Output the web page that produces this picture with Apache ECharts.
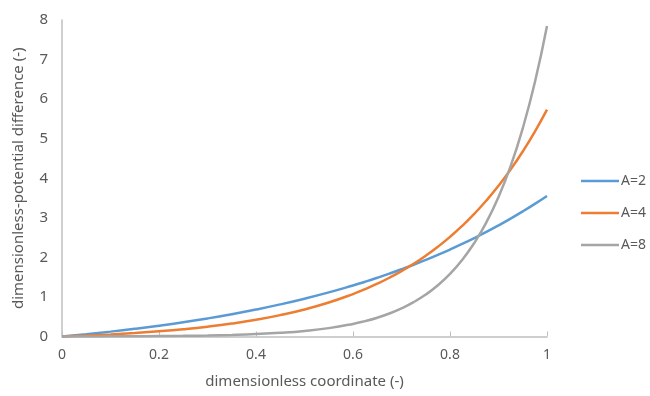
<!DOCTYPE html>
<html>
<head>
<meta charset="utf-8">
<script src="https://cdn.jsdelivr.net/npm/echarts@6/dist/echarts.min.js"></script>
<style>html,body{margin:0;padding:0;background:#fff;}#c{width:650px;height:396px;}</style>
</head>
<body>
<div id="c"></div>
<script>
var xs = [0,0.05,0.1,0.15,0.2,0.25,0.3,0.35,0.4,0.45,0.5,0.55,0.6,0.625,0.65,0.675,0.7,0.725,0.75,0.775,0.8,0.825,0.85,0.875,0.9,0.925,0.95,0.975,1];
var seriesNames = ['A=2','A=4','A=8'];
var a2 = [0,0.0585,0.1231,0.1945,0.2735,0.3607,0.4571,0.5636,0.6814,0.8115,0.9554,1.1143,1.2900,1.3846,1.4841,1.5887,1.6987,1.8143,1.9358,2.0636,2.1979,2.3391,2.4875,2.6436,2.8076,2.9801,3.1614,3.3520,3.5523];
var a4 = [0,0.0237,0.0526,0.0880,0.1311,0.1839,0.2483,0.3269,0.4230,0.5403,0.6836,0.8587,1.0725,1.1965,1.3336,1.4851,1.6526,1.8376,2.0422,2.2682,2.5180,2.7941,3.0992,3.4364,3.8090,4.2209,4.6761,5.1791,5.7350];
var a8 = [0,0.0013,0.0032,0.0061,0.0104,0.0168,0.0264,0.0407,0.0620,0.0938,0.1412,0.2119,0.3174,0.3883,0.4748,0.5806,0.7097,0.8674,1.0600,1.2953,1.5826,1.9336,2.3623,2.8859,3.5254,4.3066,5.2606,6.4259,7.8492];
var colors = ['#5B9BD5','#ED7D31','#A5A5A5'];
var values = [a2,a4,a8];
var font = 'Noto Sans';
var textColor = '#595959';

function pairs(v){ return xs.map(function(x,i){ return [x, v[i]]; }); }

var chart = echarts.init(document.getElementById('c'));
chart.setOption({
  animation: false,
  textStyle: {fontFamily: font},
  grid: {left: 62, right: 103, top: 20, bottom: 59.5, containLabel: false},
  xAxis: {
    type: 'value', min: 0, max: 1, interval: 0.2,
    name: 'dimensionless coordinate (-)', nameLocation: 'middle', nameGap: 38,
    nameTextStyle: {fontFamily: font, fontSize: 15, color: textColor},
    axisLine: {show: true, lineStyle: {color: '#BFBFBF', width: 1.5}},
    axisTick: {show: true, inside: true, length: 5, lineStyle: {color: '#BFBFBF'}},
    axisLabel: {fontFamily: font, fontSize: 14, color: textColor, margin: 12},
    splitLine: {show: false}
  },
  yAxis: {
    type: 'value', min: 0, max: 8, interval: 1,
    name: 'dimensionless-potential difference (-)', nameLocation: 'middle', nameGap: 36,
    nameTextStyle: {fontFamily: font, fontSize: 15, color: textColor},
    axisLine: {show: true, lineStyle: {color: '#BFBFBF', width: 1.5}},
    axisTick: {show: false},
    axisLabel: {fontFamily: font, fontSize: 15, color: textColor, margin: 14},
    splitLine: {show: false}
  },
  legend: {
    orient: 'vertical', left: 576, top: 169,
    icon: 'rect', itemWidth: 38, itemHeight: 2.5, itemGap: 18,
    textStyle: {fontFamily: font, fontSize: 14, color: textColor, padding: [0,0,0,-3]},
    data: seriesNames
  },
  series: seriesNames.map(function(n,i){
    return {
      name: n, type: 'line', data: pairs(values[i]),
      symbol: 'none', smooth: true,
      lineStyle: {color: colors[i], width: 2.5},
      itemStyle: {color: colors[i]}
    };
  })
});
</script>
</body>
</html>
